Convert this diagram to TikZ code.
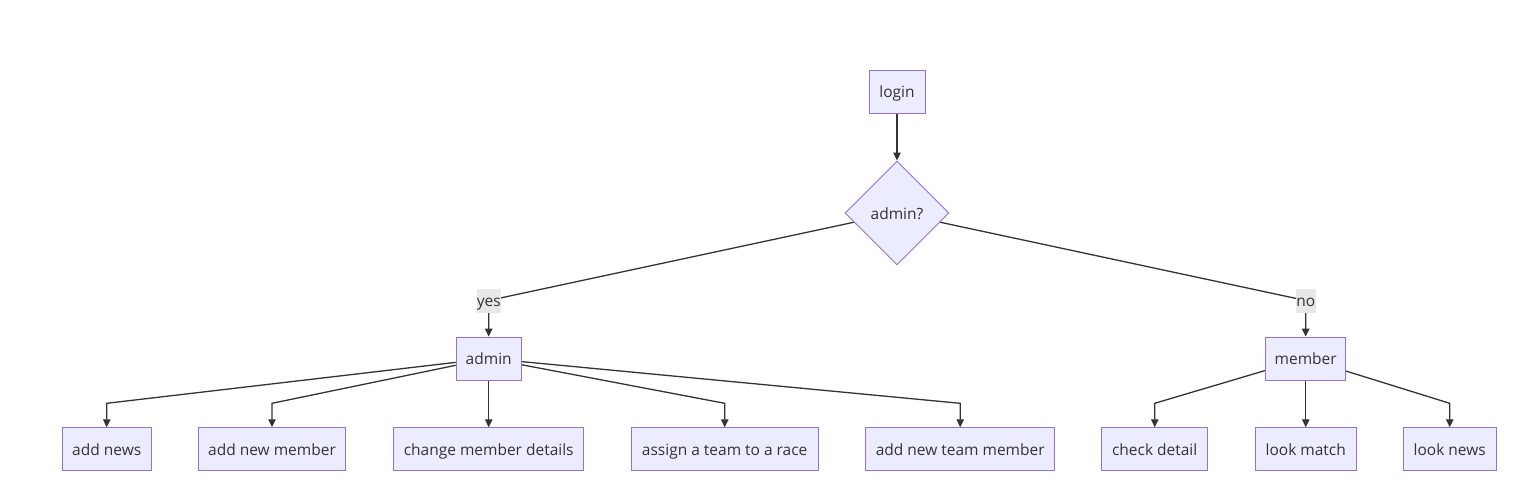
\documentclass[tikz,border=0pt]{standalone}
\usepackage{fontspec}
\setmainfont{Open Sans}
\usetikzlibrary{shapes.geometric,arrows.meta,backgrounds,calc}
\definecolor{nodefill}{HTML}{ECECFF}
\definecolor{nodeline}{HTML}{9370DB}
\definecolor{ink}{HTML}{333333}
\definecolor{lblbg}{HTML}{E8E8E8}
\tikzset{
  txt/.style={text=ink, font=\fontsize{15.5}{18}\selectfont, text height=15.5pt, text depth=3.5pt},
  box/.style={txt, draw=nodeline, fill=nodefill, line width=0.9pt, minimum height=43pt, inner sep=0pt},
  decision/.style={txt, diamond, draw=nodeline, fill=nodefill, line width=0.9pt, minimum width=104pt, minimum height=104pt, inner sep=0pt, aspect=1},
  elabel/.style={txt, fill=lblbg, inner sep=0pt, minimum width=22pt, minimum height=24pt},
  edge/.style={draw=ink, line width=1.3pt, -{Triangle[length=8pt,width=7.5pt]}},
}
\begin{document}
\begin{tikzpicture}[x=1pt,y=-1pt]
\useasboundingbox (0,0) rectangle (1521,485);
% top
\node[box, minimum width=56pt] (login) at (897,91.5) {login};
\node[decision] (dia) at (897,213) {admin?};
% edge labels
\node[elabel, minimum width=24pt] (yes) at (488.7,300.5) {yes};
\node[elabel, minimum width=20pt] (no) at (1305.7,300.5) {no};
% second level
\node[box, minimum width=65pt] (admin) at (488.7,358.5) {admin};
\node[box, minimum width=80pt] (member) at (1305.7,358.5) {member};
% leaves
\node[box, minimum width=88.7pt] (an) at (106.7,449.2) {add news};
\node[box, minimum width=147.3pt] (anm) at (272,449.2) {add new member};
\node[box, minimum width=190pt] (cmd) at (488.7,449.2) {change member details};
\node[box, minimum width=187.3pt] (atr) at (724.7,449.2) {assign a team to a race};
\node[box, minimum width=189pt] (antm) at (960.2,449.2) {add new team member};
\node[box, minimum width=106pt] (cd) at (1154.7,449.2) {check detail};
\node[box, minimum width=100.7pt] (lm) at (1305.7,449.2) {look match};
\node[box, minimum width=92.7pt] (ln) at (1449.7,449.2) {look news};
% bend points
\coordinate (ban) at (106.7,403.3);
\coordinate (banm) at (272,403.3);
\coordinate (batr) at (724.7,403.3);
\coordinate (bantm) at (960.2,403.3);
\coordinate (bcd) at (1154.7,403.3);
\coordinate (bln) at (1449.7,403.3);
\begin{pgfonlayer}{background}
\draw[edge] (login) -- (dia);
\draw[edge] (dia) -- (yes.center) -- (admin);
\draw[edge] (dia) -- (no.center) -- (member);
\draw[edge] (admin) -- (ban) -- (an);
\draw[edge] (admin) -- (banm) -- (anm);
\draw[edge] (admin) -- (cmd);
\draw[edge] (admin) -- (batr) -- (atr);
\draw[edge] (admin) -- (bantm) -- (antm);
\draw[edge] (member) -- (bcd) -- (cd);
\draw[edge] (member) -- (lm);
\draw[edge] (member) -- (bln) -- (ln);
\end{pgfonlayer}
\end{tikzpicture}
\end{document}
